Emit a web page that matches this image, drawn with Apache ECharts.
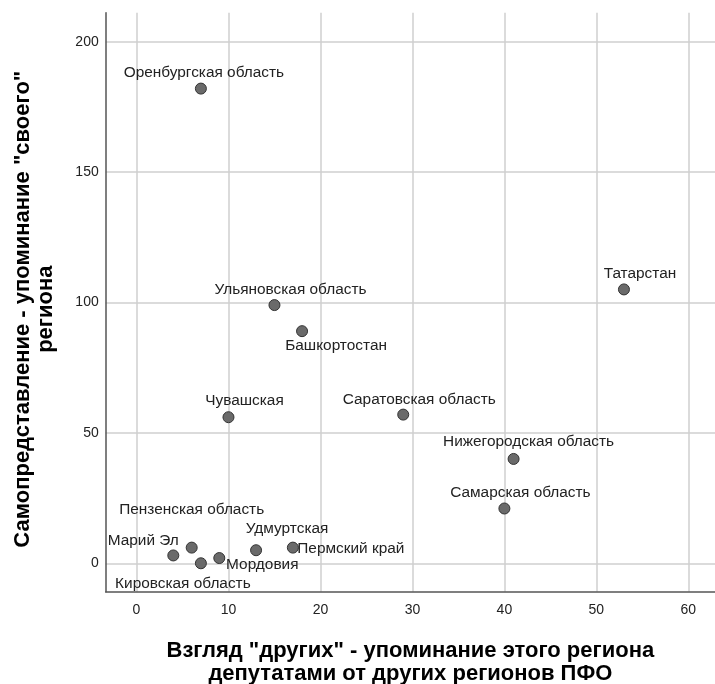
<!DOCTYPE html>
<html>
<head>
<meta charset="utf-8">
<script src="https://cdn.jsdelivr.net/npm/echarts@6/dist/echarts.min.js"></script>
<style>
html,body{margin:0;padding:0;background:#fff;}
#chart{width:715px;height:684px;}
</style>
</head>
<body>
<div id="chart"></div>
<script>
const regions = ["Оренбургская область","Татарстан","Ульяновская область","Башкортостан","Чувашская","Саратовская область","Нижегородская область","Самарская область","Пензенская область","Марий Эл","Кировская область","Мордовия","Удмуртская","Пермский край"];
const others = [7,53,15,18,10,29,41,40,6,4,7,9,13,17];
const own = [182,105,99,89,56,57,40,21,6,3,0,2,5,6];
const labelOffsets = [[3,-16],[16,-16],[16,-15],[34,15],[16,-16],[16,-15],[15,-17],[16,-16],[0,-38],[-30,-15],[-18,20],[43,7],[31,-21],[58,1]];
const xTicks = [0,10,20,30,40,50,60];
const yTicks = [0,50,100,150,200];
const xTitle = 'Взгляд "других" - упоминание этого региона\nдепутатами от других регионов ПФО';
const yTitle = 'Самопредставление - упоминание "своего"\nрегиона';

const FONT = 'Liberation Sans, Arial, sans-serif';
const data = regions.map((r,i)=>({name:r,value:[others[i],own[i]]}));

const chart = echarts.init(document.getElementById('chart'));
chart.setOption({
  animation:false,
  backgroundColor:'#fff',
  textStyle:{fontFamily:FONT},
  grid:{left:105.7,right:0,top:12.7,bottom:92.3,containLabel:false,outerBoundsMode:'none'},
  xAxis:{
    type:'value',min:-3.35,max:62.9,
    name:xTitle,nameLocation:'middle',nameGap:48,
    nameTextStyle:{fontSize:22,fontWeight:'bold',color:'#000',lineHeight:23,fontFamily:FONT},
    axisLine:{show:true,onZero:false,lineStyle:{color:'#555',width:1.5}},
    axisTick:{show:false,customValues:xTicks},
    axisLabel:{customValues:xTicks,color:'#222',fontSize:14,margin:11,fontFamily:FONT},
    splitLine:{show:true,lineStyle:{color:'#cfcfcf',width:1.5}}
  },
  yAxis:{
    type:'value',min:-10.9,max:211.1,
    name:yTitle,nameLocation:'middle',nameGap:48,nameRotate:90,
    nameTextStyle:{fontSize:22,fontWeight:'bold',color:'#000',lineHeight:23,fontFamily:FONT,padding:[0,14,0,0]},
    axisLine:{show:true,onZero:false,lineStyle:{color:'#555',width:1.5}},
    axisTick:{show:false,customValues:yTicks},
    axisLabel:{customValues:yTicks,color:'#222',fontSize:14,margin:7,fontFamily:FONT},
    splitLine:{show:true,lineStyle:{color:'#cfcfcf',width:1.5}}
  },
  series:[{
    type:'scatter',
    data:data,
    symbol:'circle',
    symbolSize:11,
    itemStyle:{color:'#6a6a6a',borderColor:'#333',borderWidth:1,opacity:1},
    label:{
      show:true,position:'inside',
      formatter:p=>p.name,
      color:'#222',fontSize:15.4,
      fontFamily:FONT
    },
    labelLayout:function(params){
      const o = labelOffsets[params.dataIndex];
      return {dx:o[0],dy:o[1],hideOverlap:false};
    },
    emphasis:{disabled:true}
  }]
});
</script>
</body>
</html>
